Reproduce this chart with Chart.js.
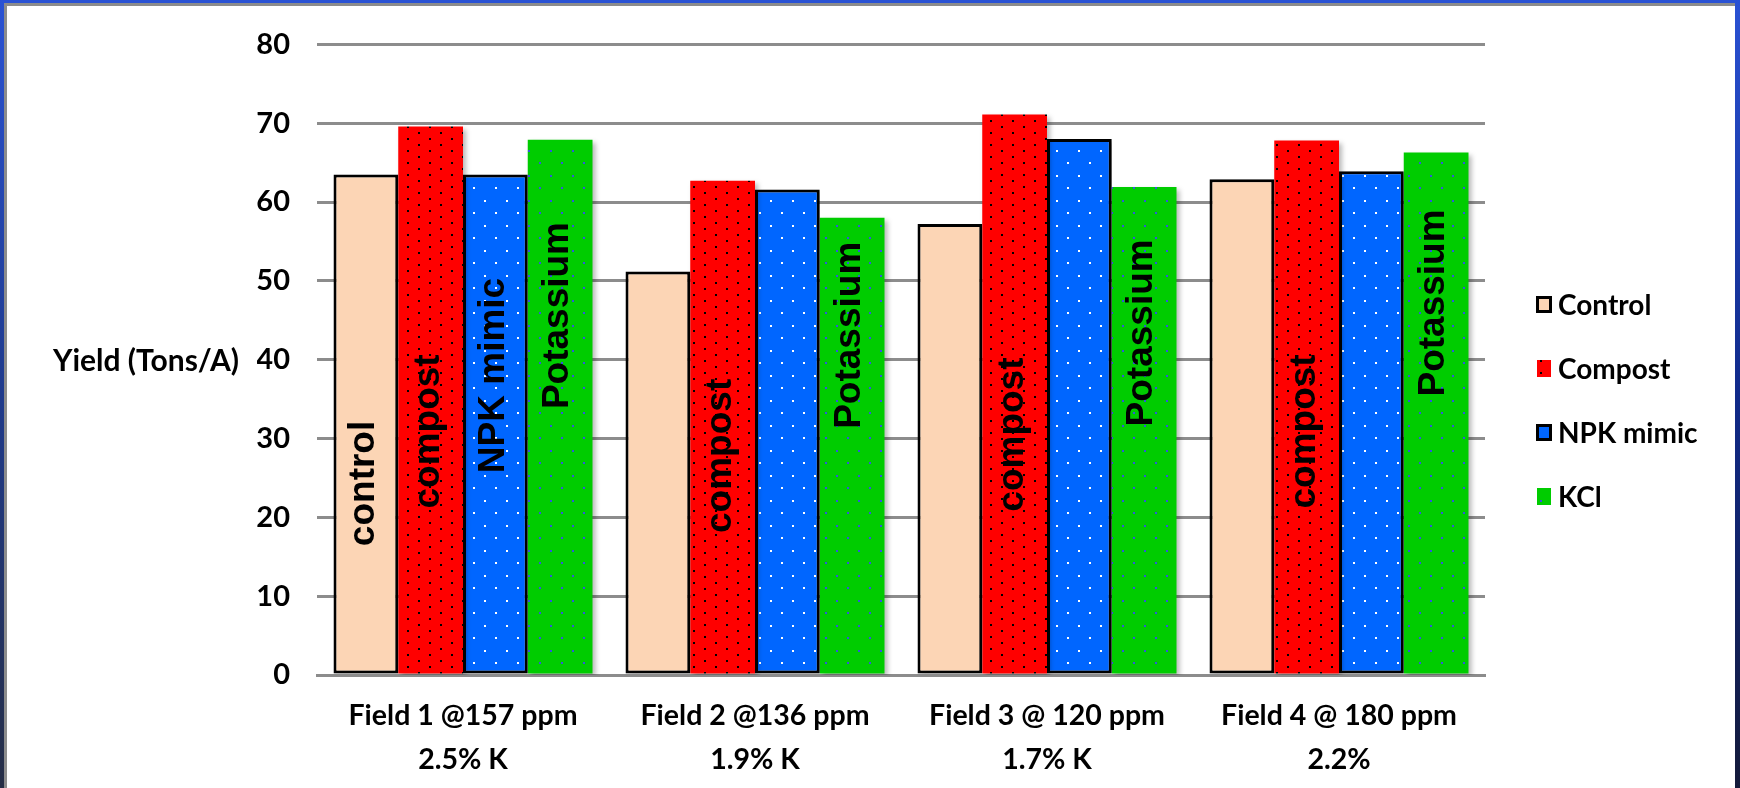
<!DOCTYPE html>
<html>
<head>
<meta charset="utf-8">
<title>Yield by field and treatment</title>
<script src="https://cdn.jsdelivr.net/npm/chart.js@4.4.1/dist/chart.umd.min.js"></script>
<style>
  html, body { margin: 0; padding: 0; background: #ffffff; overflow: hidden; }
  #wrap { position: relative; width: 1740px; height: 788px; }
  canvas { display: block; }
</style>
</head>
<body>
<div id="wrap"><canvas id="c" width="1740" height="788"></canvas></div>
<script>
// ---- data ----
const fields = [
  ["Field 1 @157 ppm", "2.5% K"],
  ["Field 2 @136 ppm", "1.9% K"],
  ["Field 3 @ 120 ppm", "1.7% K"],
  ["Field 4 @ 180 ppm", "2.2%"]
];
const seriesNames = ["Control", "Compost", "NPK mimic", "KCl"];
const control  = [63.5, 51.2, 57.2, 62.9];
const compost  = [69.6, 62.7, 71.1, 67.8];
const npkMimic = [63.5, 61.6, 68.0, 63.9];
const kcl      = [67.9, 58.0, 61.9, 66.3];
const yMin = 0, yMax = 80, yStep = 10;
const yTitle = "Yield (Tons/A)";

// ---- fills ----
function dotPattern(bg, dot, w, h, pts) {
  const c = document.createElement('canvas');
  c.width = w; c.height = h;
  const g = c.getContext('2d');
  g.fillStyle = bg; g.fillRect(0, 0, w, h);
  g.fillStyle = dot;
  pts.forEach(([x, y]) => g.fillRect(x, y, 2, 2));
  return g.createPattern(c, 'repeat');
}
const peach = '#FCD5B5';
const redDots   = dotPattern('#FF0000', '#000000', 22, 12, [[0, 0], [11, 6]]);
const blueDots  = dotPattern('#0066FF', '#FFFFFF', 22, 25, [[0, 0], [11, 12]]);
const greenDots = dotPattern('#00CC00', '#3355DD', 22, 25, [[0, 0], [11, 12]]);

const seriesStyle = [
  { fill: peach,     border: '#000000', bw: 3 },
  { fill: redDots,   border: '#FF0000', bw: 0 },
  { fill: blueDots,  border: '#000000', bw: 3 },
  { fill: greenDots, border: '#00CC00', bw: 0 }
];

// text written inside bars, centred at a value on the y scale
const barNotes = [
  { ds: 0, cat: 0, text: 'control',   at: 24.3 },
  { ds: 1, cat: 0, text: 'compost',   at: 30.9 },
  { ds: 2, cat: 0, text: 'NPK mimic', at: 38.0 },
  { ds: 3, cat: 0, text: 'Potassium', at: 45.6 },
  { ds: 1, cat: 1, text: 'compost',   at: 27.8 },
  { ds: 3, cat: 1, text: 'Potassium', at: 43.1 },
  { ds: 1, cat: 2, text: 'compost',   at: 30.5 },
  { ds: 3, cat: 2, text: 'Potassium', at: 43.4 },
  { ds: 1, cat: 3, text: 'compost',   at: 30.9 },
  { ds: 3, cat: 3, text: 'Potassium', at: 47.2 }
];

// ---- plugins ----
const pageBackground = {
  id: 'pageBackground',
  beforeDraw(chart) {
    const ctx = chart.ctx;
    ctx.save();
    ctx.fillStyle = '#ffffff';
    ctx.fillRect(0, 0, chart.width, chart.height);
    ctx.restore();
  }
};

const barShadow = {
  id: 'barShadow',
  beforeDatasetsDraw(chart) {
    const ctx = chart.ctx;
    ctx.save();
    ctx.shadowColor = 'rgba(0,0,0,0.28)';
    ctx.shadowBlur = 5;
    ctx.shadowOffsetX = 3;
    ctx.shadowOffsetY = 3;
  },
  afterDatasetsDraw(chart) {
    chart.ctx.restore();
  }
};

const barText = {
  id: 'barText',
  afterDatasetsDraw(chart) {
    const ctx = chart.ctx;
    const y = chart.scales.y;
    ctx.save();
    ctx.fillStyle = '#000000';
    ctx.font = 'bold 37px "Liberation Sans", Arial, sans-serif';
    ctx.textAlign = 'center';
    ctx.textBaseline = 'middle';
    barNotes.forEach(n => {
      const bar = chart.getDatasetMeta(n.ds).data[n.cat];
      ctx.save();
      ctx.translate(bar.x - 2, y.getPixelForValue(n.at));
      ctx.rotate(-Math.PI / 2);
      ctx.fillText(n.text, 0, 0);
      ctx.restore();
    });
    ctx.restore();
  }
};

const sideTitle = {
  id: 'sideTitle',
  afterDraw(chart) {
    const ctx = chart.ctx;
    const y = chart.scales.y;
    ctx.save();
    ctx.fillStyle = '#000000';
    ctx.font = 'bold 30px Lato, sans-serif';
    ctx.textAlign = 'left';
    ctx.textBaseline = 'middle';
    ctx.fillText(yTitle, 53, y.getPixelForValue((yMin + yMax) / 2) + 2);
    ctx.restore();
  }
};

const sideLegend = {
  id: 'sideLegend',
  afterDraw(chart) {
    const ctx = chart.ctx;
    const x0 = chart.chartArea.right + 51;
    const y0 = 305, step = 64;
    ctx.save();
    ctx.font = 'bold 28px Lato, sans-serif';
    ctx.textAlign = 'left';
    ctx.textBaseline = 'middle';
    seriesNames.forEach((name, i) => {
      const s = seriesStyle[i];
      const cy = y0 + i * step;
      ctx.fillStyle = s.fill;
      if (s.bw) {
        ctx.fillRect(x0, cy - 9, 16, 17);
        ctx.lineWidth = 3;
        ctx.strokeStyle = s.border;
        ctx.strokeRect(x0 + 1.5, cy - 7.5, 13, 14);
      } else {
        ctx.fillRect(x0 + 1, cy - 9, 14, 17);
      }
      ctx.fillStyle = '#000000';
      ctx.fillText(name, x0 + 22, cy + 1);
    });
    ctx.restore();
  }
};

const frame = {
  id: 'frame',
  afterDraw(chart) {
    const ctx = chart.ctx;
    const W = chart.width, H = chart.height;
    ctx.save();
    // inner grey rule
    ctx.fillStyle = '#8c8c8c';
    ctx.fillRect(4, 3, W - 9, 3);
    ctx.fillRect(4, 3, 3, H - 3);
    // blue edges
    ctx.fillStyle = '#2a52d4';
    ctx.fillRect(0, 0, W, 3);
    const gl = ctx.createLinearGradient(0, 0, 0, H);
    gl.addColorStop(0, '#2a52d4');
    gl.addColorStop(0.5, '#1f3a8c');
    gl.addColorStop(1, '#252d45');
    ctx.fillStyle = gl;
    ctx.fillRect(0, 0, 4, H);
    const gr = ctx.createLinearGradient(0, 0, 0, H);
    gr.addColorStop(0, '#2a52d4');
    gr.addColorStop(0.5, '#102a8a');
    gr.addColorStop(1, '#141a3a');
    ctx.fillStyle = gr;
    ctx.fillRect(W - 5, 0, 5, H);
    ctx.restore();
  }
};

// ---- chart ----
const seriesValues = [control, compost, npkMimic, kcl];

function build() {
  new Chart(document.getElementById('c'), {
    type: 'bar',
    data: {
      labels: fields,
      datasets: seriesNames.map((name, i) => ({
        label: name,
        data: seriesValues[i],
        backgroundColor: seriesStyle[i].fill,
        borderColor: seriesStyle[i].border,
        borderWidth: seriesStyle[i].bw,
        borderSkipped: false,
        categoryPercentage: 0.887,
        barPercentage: 1.0
      }))
    },
    options: {
      responsive: false,
      animation: false,
      devicePixelRatio: 1,
      layout: { padding: { left: 257, right: 255, top: 28, bottom: 0 } },
      plugins: {
        legend: { display: false },
        title: { display: false },
        tooltip: { enabled: false }
      },
      scales: {
        x: {
          grid: { display: false, drawTicks: false },
          border: { display: true, color: '#8c8c8c', width: 3 },
          ticks: {
            color: '#000000',
            padding: 19,
            maxRotation: 0,
            autoSkip: false,
            font: { family: 'Lato, sans-serif', size: 28.5, weight: 'bold', lineHeight: 1.55 }
          },
          afterFit(scale) { scale.height = 113; }
        },
        y: {
          min: yMin,
          max: yMax,
          ticks: {
            stepSize: yStep,
            color: '#000000',
            padding: 27,
            font: { family: 'Lato, sans-serif', size: 29, weight: 'bold' }
          },
          grid: { color: '#8c8c8c', lineWidth: 3, drawTicks: false },
          border: { display: false },
          afterFit(scale) { scale.width = 60; }
        }
      }
    },
    plugins: [pageBackground, barShadow, barText, sideTitle, sideLegend, frame]
  });
}

Promise.all([
  document.fonts.load('bold 28px Lato'),
  document.fonts.load('bold 37px "Liberation Sans"')
]).then(build, build);
</script>
</body>
</html>
